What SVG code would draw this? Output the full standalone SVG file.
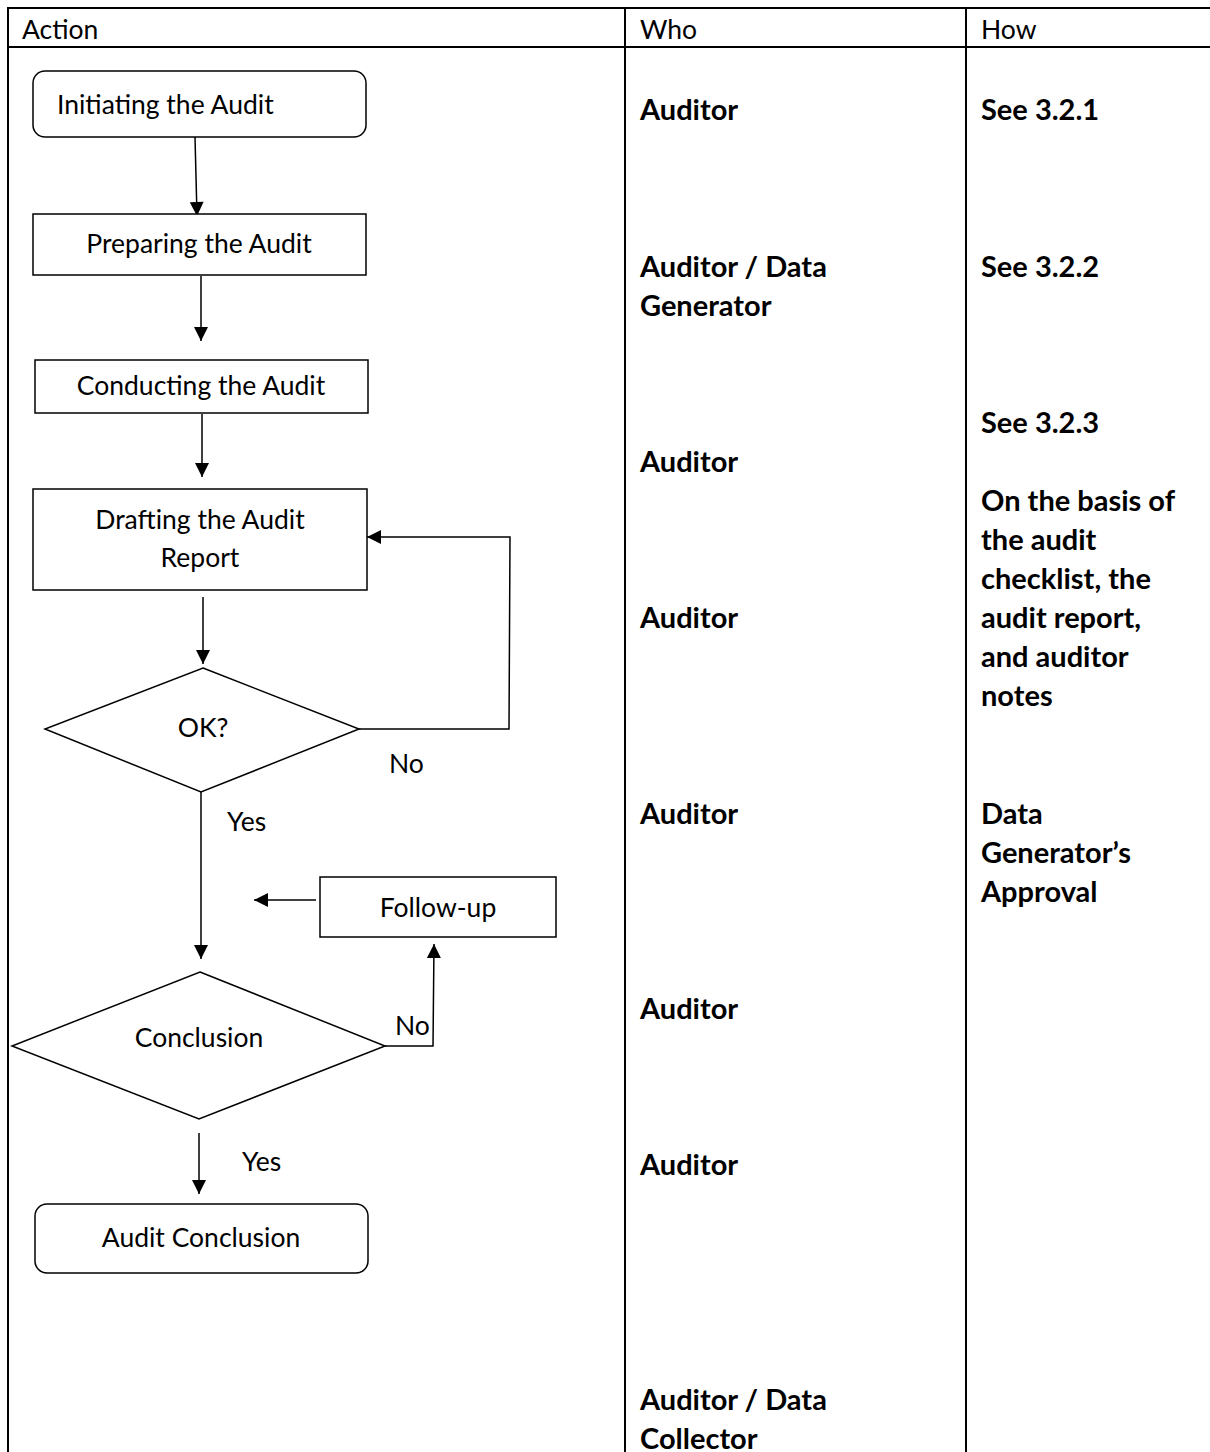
<svg xmlns="http://www.w3.org/2000/svg" width="1210" height="1452" viewBox="0 0 1210 1452">
<defs>
<marker id="ah" viewBox="0 0 10 10" refX="10" refY="5" markerWidth="15" markerHeight="14" markerUnits="userSpaceOnUse" orient="auto">
<path d="M0,0 L10,5 L0,10 z" fill="#000"/>
</marker>
<style>
.t{font-family:Lato,"Open Sans",sans-serif;font-size:26.5px;fill:#000;dominant-baseline:central}
.b{font-weight:bold;font-size:29px}
.c{text-anchor:middle}
.shape{fill:#fff;stroke:#000;stroke-width:1.5}
.grid{stroke:#000;stroke-width:2;fill:none}
.conn{stroke:#000;stroke-width:1.5;fill:none;marker-end:url(#ah)}
</style>
</defs>
<rect width="1210" height="1452" fill="#fff"/>
<g id="table">
<line class="grid" x1="8" y1="8" x2="1210" y2="8"/>
<line class="grid" x1="8" y1="47" x2="1210" y2="47"/>
<line class="grid" x1="8" y1="7" x2="8" y2="1452"/>
<line class="grid" x1="625" y1="7" x2="625" y2="1452"/>
<line class="grid" x1="966" y1="7" x2="966" y2="1452"/>
<text class="t" x="22" y="29">Action</text>
<text class="t" x="640" y="29">Who</text>
<text class="t" x="981" y="29">How</text>
</g>
<g id="who">
<text class="t b" x="640" y="108">Auditor</text>
<text class="t b" x="640" y="265">Auditor / Data</text>
<text class="t b" x="640" y="304">Generator</text>
<text class="t b" x="640" y="460">Auditor</text>
<text class="t b" x="640" y="616">Auditor</text>
<text class="t b" x="640" y="812">Auditor</text>
<text class="t b" x="640" y="1007">Auditor</text>
<text class="t b" x="640" y="1163">Auditor</text>
<text class="t b" x="640" y="1398">Auditor / Data</text>
<text class="t b" x="640" y="1437">Collector</text>
</g>
<g id="how">
<text class="t b" x="981" y="108">See 3.2.1</text>
<text class="t b" x="981" y="265">See 3.2.2</text>
<text class="t b" x="981" y="421">See 3.2.3</text>
<text class="t b" x="981" y="499">On the basis of</text>
<text class="t b" x="981" y="538">the audit</text>
<text class="t b" x="981" y="577">checklist, the</text>
<text class="t b" x="981" y="616">audit report,</text>
<text class="t b" x="981" y="655">and auditor</text>
<text class="t b" x="981" y="694">notes</text>
<text class="t b" x="981" y="812">Data</text>
<text class="t b" x="981" y="851">Generator’s</text>
<text class="t b" x="981" y="890">Approval</text>
</g>
<g id="connectors">
<line class="conn" x1="195" y1="137" x2="197" y2="216"/>
<line class="conn" x1="201" y1="276" x2="201" y2="341"/>
<line class="conn" x1="202" y1="414" x2="202" y2="477"/>
<line class="conn" x1="203" y1="597" x2="203" y2="664"/>
<polyline class="conn" points="359,729 509,729 510,537 367,537"/>
<line class="conn" x1="201" y1="792" x2="201" y2="959"/>
<line class="conn" x1="316" y1="900" x2="254" y2="900"/>
<polyline class="conn" points="385,1046 433,1046 434,944"/>
<line class="conn" x1="199" y1="1133" x2="199" y2="1194"/>
<text class="t" x="389" y="763">No</text>
<text class="t" x="227" y="821">Yes</text>
<text class="t" x="395" y="1025">No</text>
<text class="t" x="242" y="1161">Yes</text>
</g>
<g id="n-initiating">
<rect class="shape" x="33" y="71" width="333" height="66" rx="12"/>
<text class="t" x="57" y="104">Initiating the Audit</text>
</g>
<g id="n-preparing">
<rect class="shape" x="33" y="214" width="333" height="61"/>
<text class="t c" x="199" y="243">Preparing the Audit</text>
</g>
<g id="n-conducting">
<rect class="shape" x="35" y="360" width="333" height="53"/>
<text class="t c" x="201" y="385">Conducting the Audit</text>
</g>
<g id="n-drafting">
<rect class="shape" x="33" y="489" width="334" height="101"/>
<text class="t c" x="200" y="519">Drafting the Audit</text>
<text class="t c" x="200" y="557">Report</text>
</g>
<g id="n-ok">
<polygon class="shape" points="203,668 359,729 201,792 45,729"/>
<text class="t c" x="203" y="727">OK?</text>
</g>
<g id="n-followup">
<rect class="shape" x="320" y="877" width="236" height="60"/>
<text class="t c" x="438" y="907">Follow-up</text>
</g>
<g id="n-conclusion">
<polygon class="shape" points="200,972 385,1046 199,1119 12,1046"/>
<text class="t c" x="199" y="1037">Conclusion</text>
</g>
<g id="n-audit-conclusion">
<rect class="shape" x="35" y="1204" width="333" height="69" rx="12"/>
<text class="t c" x="201" y="1237">Audit Conclusion</text>
</g>
</svg>
